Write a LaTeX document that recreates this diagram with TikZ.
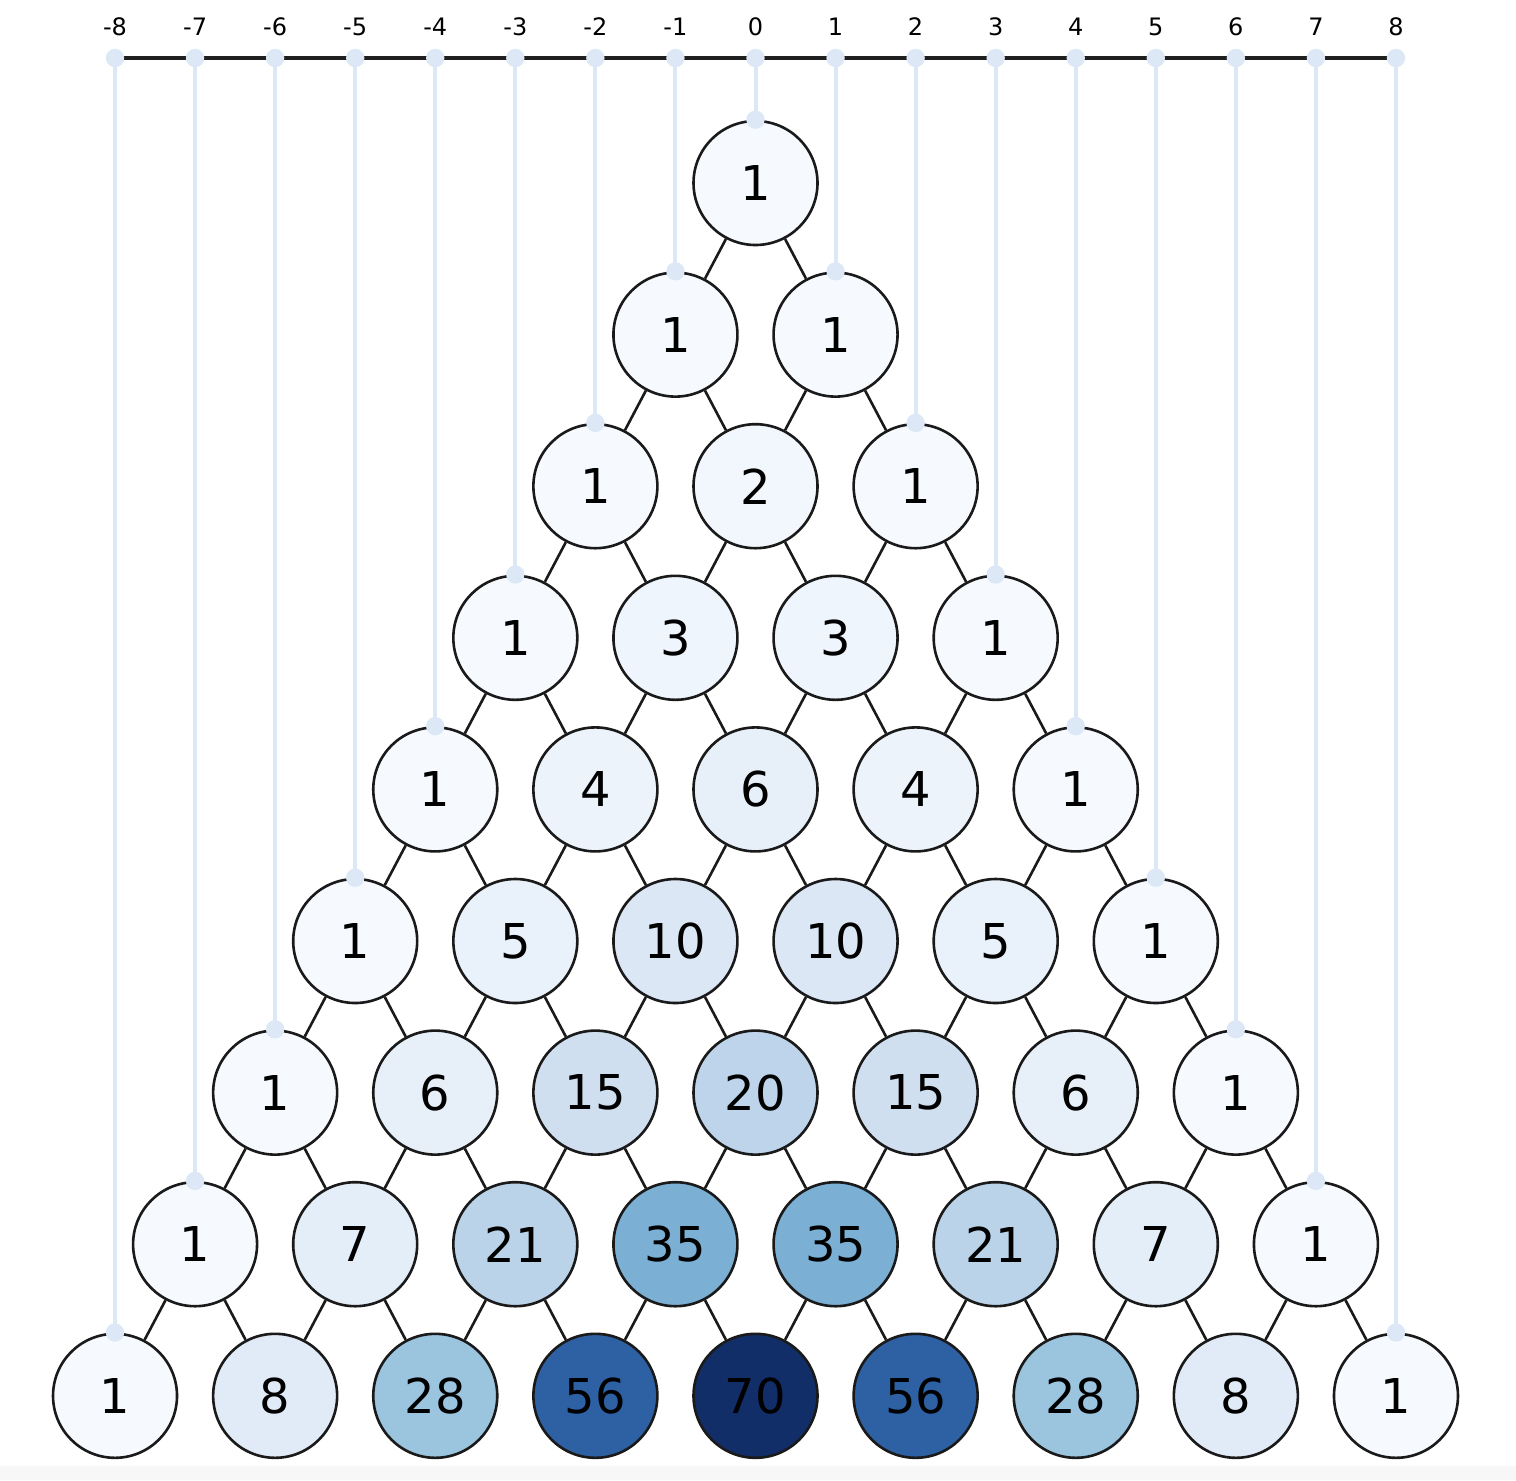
\documentclass[tikz,border=0pt]{standalone}
\usepackage{fontspec}
\setmainfont{DejaVu Sans}
\definecolor{c1}{RGB}{246,250,255}
\definecolor{c2}{RGB}{242,247,253}
\definecolor{c3}{RGB}{239,245,252}
\definecolor{c4}{RGB}{236,243,251}
\definecolor{c5}{RGB}{233,241,250}
\definecolor{c6}{RGB}{231,240,249}
\definecolor{c7}{RGB}{228,238,248}
\definecolor{c8}{RGB}{225,234,247}
\definecolor{c10}{RGB}{220,231,245}
\definecolor{c15}{RGB}{207,223,240}
\definecolor{c20}{RGB}{190,212,234}
\definecolor{c21}{RGB}{186,211,233}
\definecolor{c28}{RGB}{155,196,222}
\definecolor{c35}{RGB}{123,175,212}
\definecolor{c56}{RGB}{46,97,164}
\definecolor{c70}{RGB}{18,46,104}
\definecolor{stem}{RGB}{220,232,246}
\definecolor{outline}{RGB}{26,26,26}
\begin{document}
\begin{tikzpicture}[x=0.5pt,y=-0.5pt,
  cell/.style={circle,draw=outline,line width=1.3pt,minimum size=62pt,inner sep=0pt,font=\fontsize{24}{28}\selectfont},
  link/.style={draw=outline,line width=1.3pt},
  stemline/.style={draw=stem,line width=2pt},
  stemdot/.style={fill=stem},
  axisline/.style={draw=black!88,line width=1.6pt},
  ticklab/.style={font=\fontsize{12}{14}\selectfont,inner sep=0pt}]
\useasboundingbox (0,0) rectangle (1516,1480);
\fill[black!3] (0,1466) rectangle (1516,1480);
% axis ticks
\foreach \p in {-8,...,8}{
  \coordinate (t\p) at ({755.5+\p*80.06},58);
  \node[ticklab] (l\p) at ({755.5+\p*80.06},27) {\p};
}
\draw[axisline] (t-8) -- (t8);
% nodes
\foreach \row [count=\n from 0] in {{1},{1,1},{1,2,1},{1,3,3,1},{1,4,6,4,1},{1,5,10,10,5,1},{1,6,15,20,15,6,1},{1,7,21,35,35,21,7,1},{1,8,28,56,70,56,28,8,1}}{
  \foreach \v [count=\k from 0] in \row {
    \node[cell,fill=c\v] (r\n-\k) at ({755.5+(2*\k-\n)*80.06},{183+\n*151.6}) {\v};
  }
}
% links
\foreach \n in {0,...,7}{
  \pgfmathtruncatemacro{\m}{\n+1}
  \foreach \k in {0,...,\n}{
    \pgfmathtruncatemacro{\j}{\k+1}
    \draw[link] (r\n-\k) -- (r\m-\k);
    \draw[link] (r\n-\k) -- (r\m-\j);
  }
}
% stems
\foreach \p in {-8,...,8}{
  \pgfmathtruncatemacro{\a}{abs(\p)}
  \pgfmathtruncatemacro{\q}{(\p+abs(\p))/2}
  \draw[stemline] (t\p) -- (r\a-\q.north);
  \fill[stemdot] (t\p) circle (4.6pt);
  \fill[stemdot] (r\a-\q.north) circle (4.6pt);
}
\end{tikzpicture}
\end{document}
